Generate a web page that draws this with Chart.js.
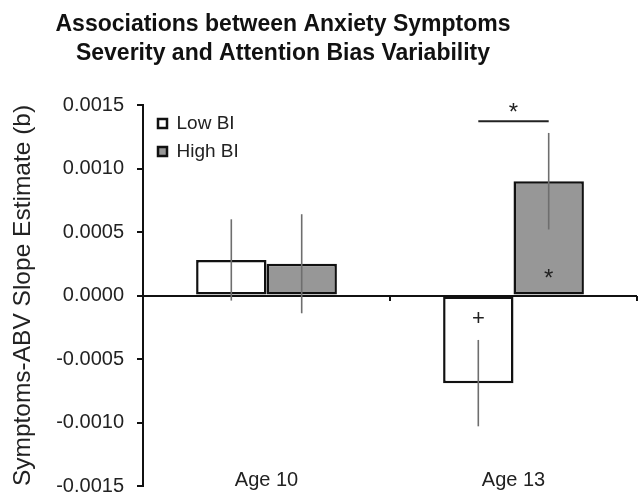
<!DOCTYPE html>
<html>
<head>
<meta charset="utf-8">
<script src="https://cdn.jsdelivr.net/npm/chart.js@4/dist/chart.umd.min.js"></script>
<style>
  html, body { margin: 0; padding: 0; background: #fff; }
  #wrap { width: 638px; height: 493px; }
</style>
</head>
<body>
<div id="wrap"><canvas id="chart" width="638" height="493"></canvas></div>
<script>
const FONT = '"Liberation Sans", Arial, sans-serif';

// values
const categories = ['Age 10', 'Age 13'];
const lowBI = [0.00028, -0.00069];
const highBI = [0.00025, 0.0009];
const lowBIErr = [0.00032, 0.00034];
const highBIErr = [0.00039, 0.00038];
const yTickMin = -0.0015;
const yTickMax = 0.0015;
const yTickStep = 0.0005;
const titleLines = ['Associations between Anxiety Symptoms', 'Severity and Attention Bias Variability'];

// error bars, drawn from the bar elements and the y scale
const errorBars = {
	id: 'errorBars',
	afterDatasetsDraw(chart) {
		const ctx = chart.ctx;
		const y = chart.scales.y;
		[lowBIErr, highBIErr].forEach((errs, i) => {
			const values = chart.data.datasets[i].data;
			chart.getDatasetMeta(i).data.forEach((bar, j) => {
				ctx.save();
				ctx.strokeStyle = '#6e6e6e';
				ctx.lineWidth = 1.6;
				ctx.beginPath();
				ctx.moveTo(bar.x, y.getPixelForValue(values[j] + errs[j]));
				ctx.lineTo(bar.x, y.getPixelForValue(values[j] - errs[j]));
				ctx.stroke();
				ctx.restore();
			});
		});
	}
};

// significance marks at age 13
const sigMarks = {
	id: 'sigMarks',
	afterDatasetsDraw(chart) {
		const ctx = chart.ctx;
		const y = chart.scales.y;
		const low = chart.getDatasetMeta(0).data[1];
		const high = chart.getDatasetMeta(1).data[1];
		ctx.save();
		ctx.fillStyle = '#222';
		ctx.strokeStyle = '#222';
		ctx.textAlign = 'center';
		ctx.textBaseline = 'middle';
		ctx.font = '22px ' + FONT;
		ctx.fillText('+', low.x, y.getPixelForValue(-0.000165) + 2);
		ctx.font = '24px ' + FONT;
		ctx.fillText('*', high.x, y.getPixelForValue(0.000173) + 6);
		ctx.fillText('*', (low.x + high.x) / 2, y.getPixelForValue(0.00147) + 5);
		ctx.lineWidth = 2;
		ctx.beginPath();
		ctx.moveTo(low.x, y.getPixelForValue(0.001372));
		ctx.lineTo(high.x, y.getPixelForValue(0.001372));
		ctx.stroke();
		ctx.restore();
	}
};

// two line heading, sits left of the canvas centre like the original
const heading = {
	id: 'heading',
	afterDraw(chart) {
		const ctx = chart.ctx;
		ctx.save();
		ctx.fillStyle = '#111';
		ctx.font = 'bold 23px ' + FONT;
		ctx.textAlign = 'center';
		ctx.textBaseline = 'middle';
		ctx.fillText(titleLines[0], 283, 25);
		ctx.fillText(titleLines[1], 283, 54);
		ctx.restore();
	}
};

// pin the legend to the top left corner of the plot
const legendPin = {
	id: 'legendPin',
	afterLayout(chart) {
		const lg = chart.legend;
		if (!lg) return;
		const h = lg.bottom - lg.top;
		const w = lg.right - lg.left;
		lg.top = chart.chartArea.top;
		lg.left = chart.chartArea.left + 6;
		lg.bottom = lg.top + h;
		lg.right = lg.left + w;
	}
};

const ctx = document.getElementById('chart').getContext('2d');
new Chart(ctx, {
	type: 'bar',
	data: {
		labels: categories,
		datasets: [
			{
				label: 'Low BI',
				data: lowBI,
				backgroundColor: '#ffffff',
				borderColor: '#111',
				borderWidth: 2.5,
				borderSkipped: false
			},
			{
				label: 'High BI',
				data: highBI,
				backgroundColor: '#979797',
				borderColor: '#111',
				borderWidth: 2.5,
				borderSkipped: false
			}
		]
	},
	options: {
		responsive: false,
		animation: false,
		events: [],
		categoryPercentage: 0.57,
		barPercentage: 1,
		layout: { padding: { top: 105, right: 1, left: 0, bottom: 0 } },
		plugins: {
			title: { display: false },
			tooltip: { enabled: false },
			legend: {
				position: 'chartArea',
				align: 'start',
				labels: {
					color: '#222',
					font: { family: FONT, size: 19 },
					boxWidth: 9,
					boxHeight: 9,
					padding: 9
				}
			}
		},
		scales: {
			x: {
				position: 'bottom',
				border: { display: false },
				grid: { display: false, drawTicks: false },
				ticks: { color: '#222', font: { family: FONT, size: 20 }, mirror: true, padding: -6 },
				afterFit: s => { s.height = 7; }
			},
			x2: {
				type: 'category',
				position: { y: 0 },
				offset: true,
				border: { display: false },
				grid: { offset: true, drawOnChartArea: false, drawTicks: true, tickLength: 5, color: '#111', lineWidth: 2 },
				ticks: { display: false }
			},
			y: {
				min: yTickMin,
				max: yTickMax,
				border: { display: true, color: '#111', width: 2 },
				grid: {
					drawOnChartArea: true,
					tickLength: 6,
					tickColor: '#111',
					lineWidth: 2,
					color: c => (c.tick && Math.abs(c.tick.value) < 1e-10 ? '#111' : 'rgba(0,0,0,0)')
				},
				ticks: {
					stepSize: yTickStep,
					color: '#222',
					padding: 13,
					font: { family: FONT, size: 20 },
					callback: v => (Math.abs(v) < 1e-10 ? 0 : v).toFixed(4)
				},
				title: {
					display: true,
					text: 'Symptoms-ABV Slope Estimate (b)',
					color: '#222',
					font: { family: FONT, size: 24.5 },
					padding: { top: 9, bottom: 0 }
				},
				afterFit: s => {
					s.width = 143;
					s.paddingTop = 0;
					s.paddingBottom = 0;
				}
			}
		}
	},
	plugins: [errorBars, sigMarks, heading, legendPin]
});
</script>
</body>
</html>
